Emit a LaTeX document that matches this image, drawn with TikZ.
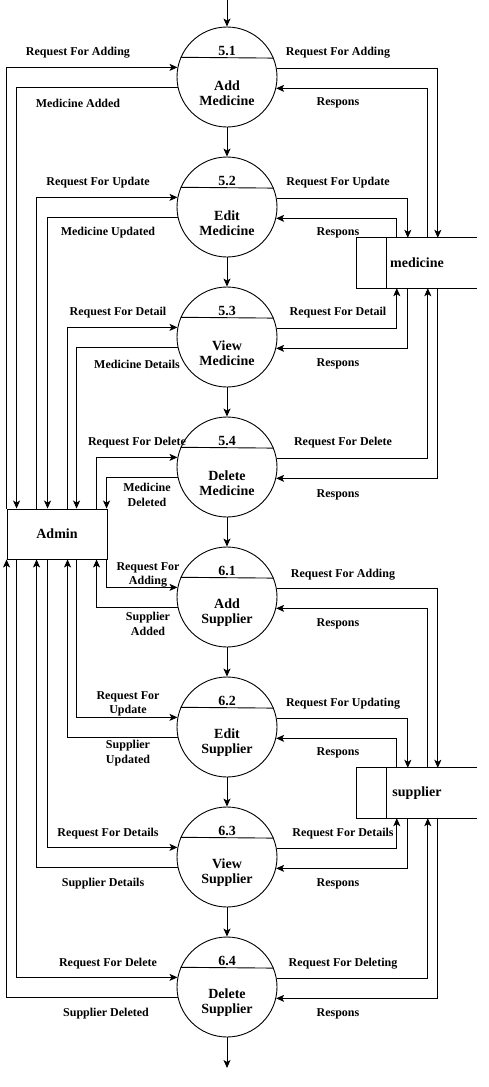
\documentclass[tikz,border=0pt]{standalone}
\usepackage{fontspec}
\setmainfont{Liberation Serif}
\usetikzlibrary{arrows.meta}

\begin{document}
\begin{tikzpicture}[x=1pt, y=-1pt, >={Stealth[length=8pt,width=7pt,inset=2pt]},
    flow/.style={->, line width=0.9pt},
    proc/.style={circle, draw, line width=0.9pt, minimum size=100pt, inner sep=0pt},
    store/.style={minimum width=120pt, minimum height=50pt, inner sep=0pt,
      font=\bfseries\fontsize{14}{15}\selectfont},
    ptext/.style={font=\bfseries\fontsize{14}{15}\selectfont, align=center},
    lbl/.style={font=\bfseries\fontsize{12}{14.5}\selectfont, align=center, inner sep=1pt}]
  \useasboundingbox (0,0) rectangle (489,1087);

  % processes
  \foreach \n/\y/\num/\name in {51/77/5.1/Add\\Medicine, 52/207/5.2/Edit\\Medicine,
      53/337/5.3/View\\Medicine, 54/467/5.4/Delete\\Medicine,
      61/597/6.1/Add\\Supplier, 62/727/6.2/Edit\\Supplier,
      63/857/6.3/View\\Supplier, 64/987/6.4/Delete\\Supplier} {
    \node[proc] (p\n) at (227,\y) {};
    \draw[line width=0.9pt] (p\n.157.7) -- (p\n.22.3);
    \node[ptext] (n\n) at (227,{\y-26}) {\num};
    \node[ptext] (t\n) at (227,{\y+16}) {\name};
  }

  % external entity and data stores
  \node[draw, line width=0.9pt, minimum width=100pt, minimum height=50pt,
    font=\bfseries\fontsize{14}{15}\selectfont] (admin) at (57,534) {Admin};
  \node[store] (med) at (417,263) {medicine};
  \node[store] (sup) at (417,793) {supplier};
  \foreach \s in {med, sup} {
    \draw[line width=0.9pt] (\s.north east) -- (\s.north west) -- (\s.south west) -- (\s.south east);
    \draw[line width=0.9pt] ([xshift=30pt]\s.north west) -- ([xshift=30pt]\s.south west);
  }

  % main chain
  \coordinate (top) at (227,0);
  \coordinate (bottom) at (227,1068);
  \draw[flow] (top) -- (p51);
  \foreach \a/\b in {51/52, 52/53, 53/54, 54/61, 61/62, 62/63, 63/64}
    \draw[flow] (p\a) -- (p\b);
  \draw[flow] (p64) -- (bottom);

  % admin side
  \foreach \p/\req/\ans in {51/0/10, 52/30/41, 53/61/70, 54/90/100} {
    \draw[flow] ([xshift=\req pt]admin.north west) |- (p\p.169.6);
    \draw[flow] (p\p.192.7) -| ([xshift=\ans pt]admin.north west);
  }
  \foreach \p/\req/\ans in {61/100/90, 62/70/61, 63/41/30, 64/10/0} {
    \draw[flow] ([xshift=\req pt]admin.south west) |- (p\p.169.6);
    \draw[flow] (p\p.192.7) -| ([xshift=\ans pt]admin.south west);
  }

  % store side
  \foreach \p/\s/\req/\ans in {51/med/81/71, 52/med/51/40, 61/sup/81/71, 62/sup/51/40} {
    \draw[flow] (p\p.10.4) -| ([xshift=\req pt]\s.north west);
    \draw[flow] ([xshift=\ans pt]\s.north west) |- (p\p.347.3);
  }
  \foreach \p/\s/\req/\ans in {53/med/40/51, 54/med/71/81, 63/sup/40/51, 64/sup/71/81} {
    \draw[flow] (p\p.10.4) -| ([xshift=\req pt]\s.south west);
    \draw[flow] ([xshift=\ans pt]\s.south west) |- (p\p.347.3);
  }

  % flow labels
  \foreach \nm/\x/\y/\txt in {l51r/78/53/Request For Adding, l51a/78/103/Medicine Added,
      l52r/98/183/Request For Update, l52a/108/233/Medicine Updated,
      l53r/118/313/Request For Detail, l53a/137/364/Medicine Details,
      l54r/137/443/Request For Delete, l54a/147/495/Medicine\\Deleted,
      l61r/148/575/Request For\\Adding, l61a/148/624/Supplier\\Added,
      l62r/128/704/Request For\\Update, l62a/128/753/Supplier\\Updated,
      l63r/108/834/Request For Details, l63a/103/884/Supplier Details,
      l64r/108/964/Request For Delete, l64a/106/1014/Supplier Deleted}
    \node[lbl] (\nm) at (\x,\y) {\txt};
  \foreach \nm/\x/\y/\txt in {r51r/338/53/Request For Adding, r51a/338/103/Respons,
      r52r/338/183/Request For Update, r52a/338/233/Respons,
      r53r/338/313/Request For Detail, r53a/338/364/Respons,
      r54r/343/443/Request For Delete, r54a/338/495/Respons,
      r61r/343/575/Request For Adding, r61a/338/624/Respons,
      r62r/343/704/Request For Updating, r62a/338/753/Respons,
      r63r/343/834/Request For Details, r63a/338/884/Respons,
      r64r/343/964/Request For Deleting, r64a/338/1014/Respons}
    \node[lbl] (\nm) at (\x,\y) {\txt};
\end{tikzpicture}
\end{document}
